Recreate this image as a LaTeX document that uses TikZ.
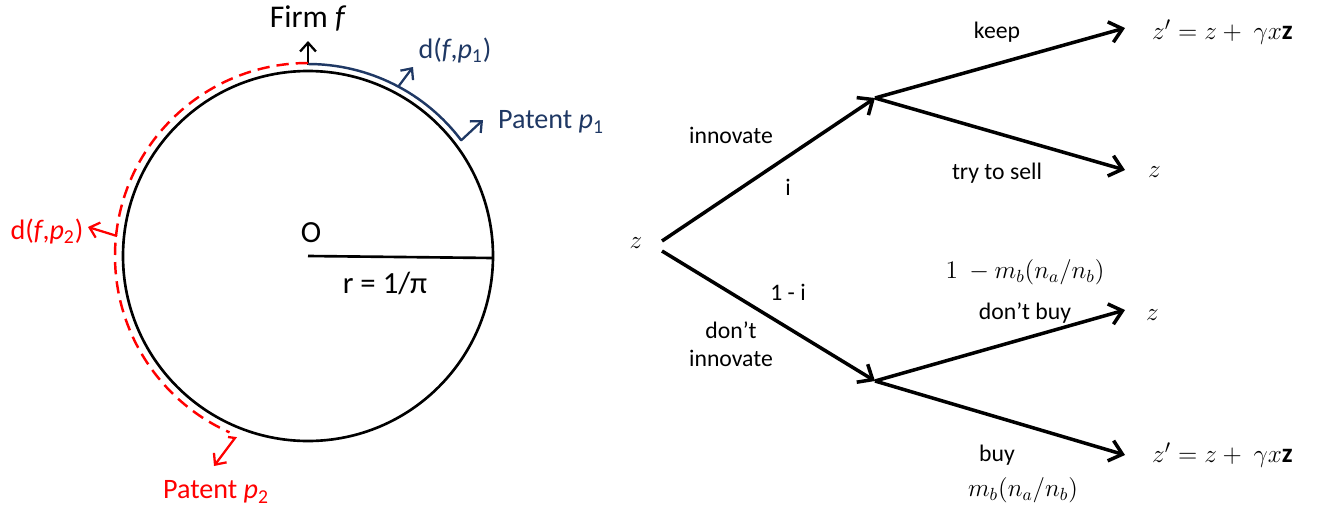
\documentclass[tikz,border=0pt]{standalone}
\usepackage{fontspec}
\setmainfont{Carlito}
\usetikzlibrary{arrows.meta}
\definecolor{patblue}{RGB}{31,56,100}
\definecolor{patred}{RGB}{255,0,0}
\tikzset{
  branch/.style={line width=2pt, -{Straight Barb[length=7pt,width=12pt,line width=2pt]}},
  tick/.style={line width=1.3pt, -{Straight Barb[length=5pt,width=9pt,line width=1.3pt]}},
  lbl/.style={font=\fontsize{13.5}{16}\selectfont},
  big/.style={font=\fontsize{16}{19}\selectfont},
  mth/.style={font=\fontsize{14.5}{17}\selectfont},
}
\begin{document}
\begin{tikzpicture}[x=0.02cm,y=-0.02cm]
\useasboundingbox (0,0) rectangle (1332,521);
% circle of firms and patents
\coordinate (O) at (308,256);
\draw[line width=1.5pt] (O) circle (185);
\coordinate (rim) at (493,258);
\draw[line width=1.5pt] (O) -- (rim);
\node[big, font=\fontsize{17.5}{20}\selectfont] (olbl) at (311,233) {O};
\node[big, font=\fontsize{17.5}{20}\selectfont] (rlbl) at (385,283) {r = 1/π};
% firm
\node[big, font=\fontsize{18}{21}\selectfont] (firm) at (308,18) {Firm \textit{f}};
\draw[tick] (308,65) -- (308,41);
% patent 1
\draw[patblue, line width=1.4pt] (308,64) arc[start angle=-90, end angle=-37, radius=192];
\draw[patblue, tick] (461,140.5) -- (483,120);
\draw[patblue, tick] (398,87) -- (413,67);
\node[big, patblue] (dp1) at (455,50) {d(\textit{f},\textit{p}\textsubscript{1})};
\node[big, patblue] (pat1) at (551,122) {Patent \textit{p}\textsubscript{1}};
% patent 2
\draw[patred, line width=1.4pt, dash pattern=on 7pt off 4pt] (308,63) arc[start angle=-90, end angle=-246, radius=193];
\draw[patred, tick] (228,437) -- (235,438) -- (214,466);
\draw[patred, tick] (117,236) -- (88,227);
\node[big, patred] (dp2) at (47,231) {d(\textit{f},\textit{p}\textsubscript{2})};
\node[big, patred] (pat2) at (216,492) {Patent \textit{p}\textsubscript{2}};
% decision tree
\node[mth] (z0) at (636,243) {$z$};
\coordinate (root) at (662,241);
\coordinate (up) at (875,98);
\coordinate (dn) at (875,381);
\node[mth, anchor=west, font=\fontsize{15.5}{18}\selectfont] (keepz) at (1146,32) {$z' = z +\ \gamma x\mathbf{z}$};
\node[mth, anchor=west] (sellz) at (1142,172) {$z$};
\node[mth, anchor=west] (nobuyz) at (1140,315) {$z$};
\node[mth, anchor=west, font=\fontsize{15.5}{18}\selectfont] (buyz) at (1146,455) {$z' = z +\ \gamma x\mathbf{z}$};
\draw[branch] (root) -- (up);
\draw[branch] (root) ++(0,10) -- (dn);
\draw[branch] (up) -- (1125,28);
\draw[branch] (up) -- (1125,170);
\draw[branch] (dn) -- (1125,310);
\draw[branch] (dn) -- (1125,455);
\node[lbl] (keep) at (997,32) {keep};
\node[lbl] (sell) at (997,173) {try to sell};
\node[lbl] (inn) at (731,135) {innovate};
\node[lbl] (ii) at (788,187) {i};
\node[lbl] (oneminus) at (788,292) {1 - i};
\node[lbl, align=center] (noinn) at (731,344) {don’t\\innovate};
\node[mth] (pnobuy) at (1025,272) {$1\ -m_b(n_a/n_b)$};
\node[lbl] (nobuy) at (1025,313) {don’t buy};
\node[lbl] (buy) at (997,455) {buy};
\node[mth] (pbuy) at (1023,490) {$m_b(n_a/n_b)$};
\end{tikzpicture}
\end{document}
